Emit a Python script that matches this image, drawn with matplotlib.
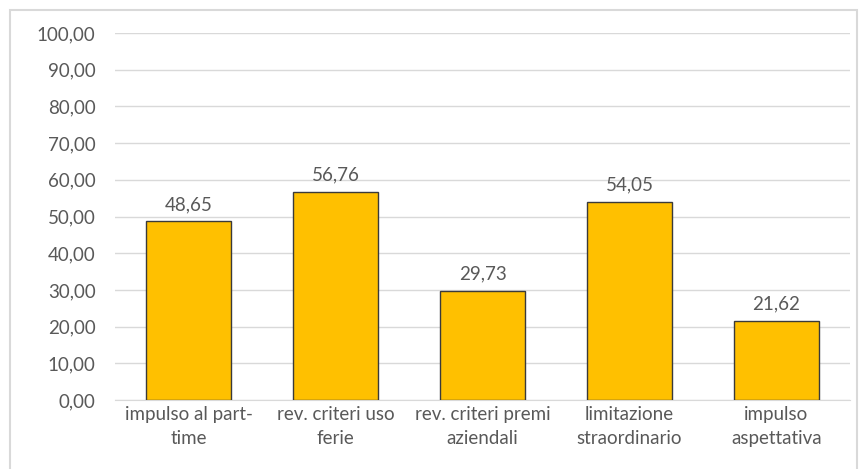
import matplotlib
matplotlib.use("Agg")
import matplotlib.pyplot as plt
from matplotlib.patches import Rectangle
import numpy as np

# --- data ---
categorie = ["impulso al part-\ntime", "rev. criteri uso\nferie", "rev. criteri premi\naziendali",
             "limitazione\nstraordinario", "impulso\naspettativa"]
valori = [48.65, 56.76, 29.73, 54.05, 21.62]
yticks = np.arange(0, 101, 10)

plt.rcParams['font.family'] = ['Lato', 'DejaVu Sans']
grigio = "#595959"
fs = 13.5

fig = plt.figure(figsize=(8.68, 4.69), dpi=100)
ax = fig.add_axes([115/868, 1-400/469, 735/868, 367/469])

x = np.arange(len(valori))
bars = ax.bar(x, valori, width=0.575, color="#FFC000", edgecolor="#3a3a3a", linewidth=1.0, zorder=3)

for xi, v in zip(x, valori):
    ax.text(xi, v + 2.3, ("%.2f" % v).replace(".", ","), ha="center", va="bottom",
            fontsize=fs, color=grigio)

ax.set_ylim(0, 100)
ax.set_xlim(-0.5, len(valori) - 0.5)
ax.set_yticks(yticks)
ax.set_yticklabels([("%.2f" % t).replace(".", ",") for t in yticks], fontsize=fs, color=grigio)
ax.set_xticks(x)
ax.set_xticklabels(categorie, fontsize=fs, color=grigio, linespacing=1.5)
ax.tick_params(axis="both", length=0, pad=14)
ax.tick_params(axis="x", pad=4)
ax.grid(axis="y", color="#d9d9d9", linewidth=1, zorder=0)
for s in ["top", "right", "left"]:
    ax.spines[s].set_visible(False)
ax.spines["bottom"].set_color("#d9d9d9")

# chart frame
fig.patches.append(Rectangle((10/868, -0.1), 847/868, 1.1 - 10/469, transform=fig.transFigure,
                             fill=False, edgecolor="#d9d9d9", linewidth=1.5))

fig.savefig("out.png", dpi=100, facecolor="white")
